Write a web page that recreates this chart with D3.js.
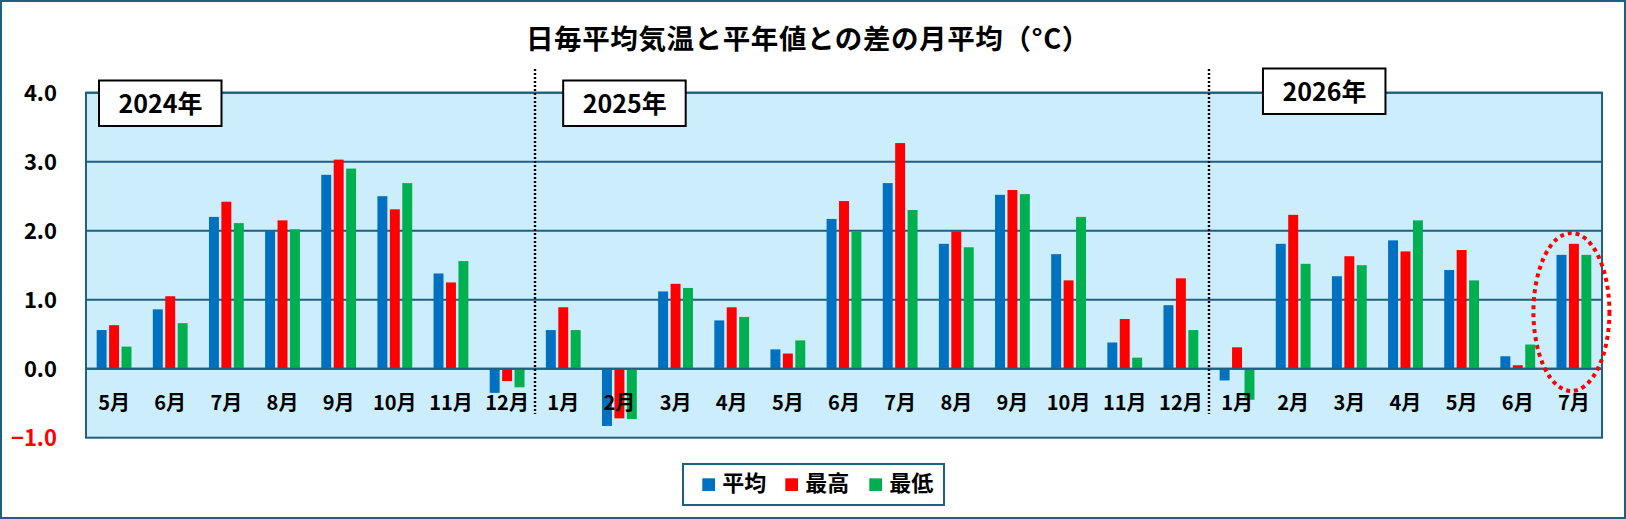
<!DOCTYPE html>
<html><head><meta charset="utf-8">
<script src="https://cdn.jsdelivr.net/npm/d3@7/dist/d3.min.js"></script>
<style>
html,body{margin:0;padding:0;background:#fff;}
svg{display:block;font-family:"Noto Sans CJK JP","Noto Sans",sans-serif;}
</style></head>
<body>
<svg id="c" width="1626" height="519"></svg>
<script>
const months = ["5月","6月","7月","8月","9月","10月","11月","12月",
  "1月","2月","3月","4月","5月","6月","7月","8月","9月","10月","11月","12月",
  "1月","2月","3月","4月","5月","6月","7月"];
const avgVals = [0.56,0.86,2.20,2.00,2.81,2.50,1.38,-0.35,
  0.56,-0.83,1.12,0.70,0.28,2.17,2.69,1.81,2.52,1.66,0.38,0.92,
  -0.17,1.81,1.34,1.86,1.43,0.18,1.65];
const maxVals = [0.63,1.05,2.42,2.15,3.03,2.31,1.25,-0.18,
  0.89,-0.72,1.23,0.89,0.22,2.43,3.27,1.99,2.59,1.28,0.72,1.31,
  0.31,2.23,1.63,1.70,1.72,0.05,1.81];
const minVals = [0.32,0.66,2.11,2.02,2.90,2.69,1.56,-0.27,
  0.56,-0.73,1.17,0.75,0.41,1.99,2.30,1.76,2.53,2.20,0.16,0.56,
  -0.45,1.52,1.50,2.15,1.28,0.35,1.65];
const seriesNames = ["平均","最高","最低"];
const yearLabels = ["2024年","2025年","2026年"];
const yearStarts = [0, 8, 20];
const yTicks = [-1, 0, 1, 2, 3, 4];
const title = "日毎平均気温と平年値との差の月平均（°C）";

const colors = ["#0070C0","#FF0000","#00B050"];
const lineColor = "#1F5F80";
const svg = d3.select("#c");

// outer frame
svg.append("rect").attr("x",1).attr("y",1).attr("width",1624).attr("height",517)
  .attr("fill","#fff").attr("stroke",lineColor).attr("stroke-width",2);

const plot = {left:86, right:1602, top:92.7, bottom:437.7};
const x = d3.scaleBand().domain(d3.range(months.length)).range([plot.left, plot.right]).paddingInner(0).paddingOuter(0);
const y = d3.scaleLinear().domain([-1,4]).range([plot.bottom, plot.top]);
const xs = d3.scaleBand().domain(d3.range(3)).range([-17.4,17.4]).paddingInner(0.2).paddingOuter(0);

// plot background
svg.append("rect").attr("x",plot.left).attr("y",plot.top)
  .attr("width",plot.right-plot.left).attr("height",plot.bottom-plot.top)
  .attr("fill","#CCEEFC");

// gridlines
svg.append("g").selectAll("line").data(yTicks.filter(t=>t>-1)).join("line")
  .attr("x1",plot.left).attr("x2",plot.right)
  .attr("y1",d=>y(d)).attr("y2",d=>y(d))
  .attr("stroke",lineColor).attr("stroke-width",2);

// bars
const all = [avgVals, maxVals, minVals];
all.forEach((vals, si) => {
  svg.append("g").selectAll("rect").data(vals).join("rect")
    .attr("x",(d,i)=>x(i)+x.bandwidth()/2+xs(si))
    .attr("width",xs.bandwidth())
    .attr("y",d=>y(Math.max(0,d)))
    .attr("height",d=>Math.abs(y(d)-y(0)))
    .attr("fill",colors[si]);
});

// zero line redraw over bars
svg.append("line").attr("x1",plot.left).attr("x2",plot.right)
  .attr("y1",y(0)).attr("y2",y(0)).attr("stroke",lineColor).attr("stroke-width",2);

// plot border
svg.append("rect").attr("x",plot.left).attr("y",plot.top)
  .attr("width",plot.right-plot.left).attr("height",plot.bottom-plot.top)
  .attr("fill","none").attr("stroke",lineColor).attr("stroke-width",2);

// y tick labels
svg.append("g").selectAll("text").data(yTicks).join("text")
  .attr("x",57).attr("y",d=>y(d)+8)
  .attr("text-anchor","end").attr("font-size",22).attr("font-weight","bold")
  .attr("fill",d=>d<0?"#FF0000":"#000")
  .text(d=>d3.format(".1f")(d));

// month labels
svg.append("g").selectAll("text").data(months).join("text")
  .attr("x",(d,i)=>x(i)+x.bandwidth()/2).attr("y",410)
  .attr("text-anchor","middle").attr("font-size",20).attr("font-weight","bold")
  .attr("fill","#000").text(d=>d);

// dotted year separators
yearStarts.slice(1).forEach(s=>{
  const sx = Math.round(x(s));
  svg.append("line").attr("x1",sx).attr("x2",sx).attr("y1",69).attr("y2",414)
    .attr("stroke","#000").attr("stroke-width",2.4).attr("stroke-dasharray","2 2");
});

// year boxes
const boxOffsets = [13, 28, 54];
const boxTops = [80.5, 80.5, 68.5];
yearLabels.forEach((lab,i)=>{
  const bx = x(yearStarts[i]) + boxOffsets[i];
  const g = svg.append("g");
  g.append("rect").attr("x",bx).attr("y",boxTops[i]).attr("width",122.5).attr("height",45.5)
    .attr("fill","#fff").attr("stroke","#000").attr("stroke-width",2);
  g.append("text").attr("x",bx+61.5).attr("y",boxTops[i]+32.5)
    .attr("text-anchor","middle").attr("font-size",25).attr("font-weight","bold")
    .attr("fill","#000").text(lab);
});

// highlight ellipse on the last month
const last = months.length-1;
svg.append("ellipse").attr("cx",x(last)+x.bandwidth()/2-2.5).attr("cy",312)
  .attr("rx",38).attr("ry",79)
  .attr("fill","none").attr("stroke","#FF0000").attr("stroke-width",4)
  .attr("stroke-dasharray","4 4");

// title
svg.append("text").attr("x",526).attr("y",49).attr("font-size",27.5).attr("font-weight","bold")
  .attr("letter-spacing",0.6).attr("fill","#000").text(title);

// legend
svg.append("rect").attr("x",683).attr("y",464).attr("width",261).attr("height",41)
  .attr("fill","#fff").attr("stroke",lineColor).attr("stroke-width",2);
const legX = [702.3, 785.3, 869.3];
seriesNames.forEach((n,i)=>{
  svg.append("rect").attr("x",legX[i]).attr("y",478.3).attr("width",12.7).attr("height",12.7).attr("fill",colors[i]);
  svg.append("text").attr("x",legX[i]+20).attr("y",491).attr("font-size",22).attr("font-weight","bold")
    .attr("fill","#000").text(n);
});
</script>
</body></html>
